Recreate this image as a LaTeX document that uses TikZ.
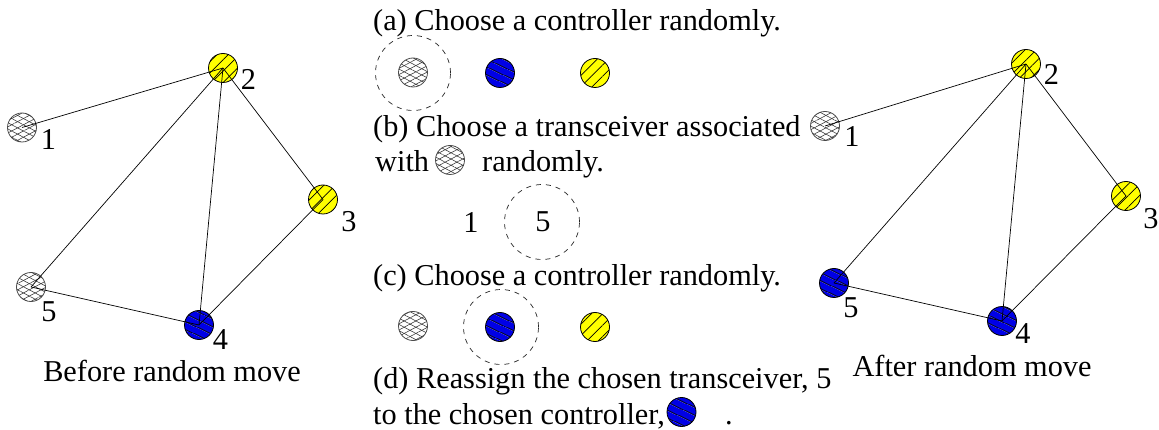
\documentclass[tikz,border=0pt]{standalone}
\usepackage{fontspec}
\setmainfont{Liberation Serif}
\usetikzlibrary{patterns.meta}
\definecolor{cblue}{RGB}{0,0,230}
\definecolor{cyel}{RGB}{255,255,0}
\begin{document}
\begin{tikzpicture}[x=1pt,y=-1pt,
  txt/.style={inner sep=0pt, anchor=base west, font=\fontsize{30.3}{36}\selectfont},
  lbl/.style={inner sep=0pt, font=\fontsize{30.3}{36}\selectfont},
  dot/.style={circle, inner sep=0pt, minimum size=29pt, draw, line width=0.8pt},
  grayd/.style={dot, draw=black!70,
    pattern={Lines[angle=28,distance=5.5pt,line width=0.55pt]}, pattern color=black!80,
    postaction={pattern={Lines[angle=-28,distance=5.5pt,line width=0.55pt]}, pattern color=black!80}},
  blued/.style={dot, preaction={fill=cblue},
    pattern={Lines[angle=-25,distance=6.5pt,line width=0.8pt]}, pattern color=black},
  yeld/.style={dot, preaction={fill=cyel},
    pattern={Lines[angle=45,distance=8pt,line width=0.7pt]}, pattern color=black},
  dcirc/.style={circle, draw=black!85, dash pattern=on 5pt off 5pt, minimum size=75pt, inner sep=0pt, line width=0.7pt},
  edge/.style={draw, line width=0.7pt}
]
\useasboundingbox (0,0) rectangle (1159,430);

% ---------- left graph ----------
\node[grayd] (L1) at (22,127.5) {};
\node[yeld]  (L2) at (223,68) {};
\node[yeld]  (L3) at (323,199.5) {};
\node[blued] (L4) at (199,325) {};
\node[grayd] (L5) at (31,287) {};
\draw[edge] (L1.center) -- (L2.center);
\draw[edge] (L2.center) -- (L5.center);
\draw[edge] (L2.center) -- (L4.center);
\draw[edge] (L2.center) -- (L3.center);
\draw[edge] (L3.center) -- (L4.center);
\draw[edge] (L5.center) -- (L4.center);
\node[lbl] (l1) at (48.5,140) {1};
\node[lbl] (l2) at (248.5,79.5) {2};
\node[lbl] (l3) at (349,222) {3};
\node[lbl] (l4) at (220.5,339.5) {4};
\node[lbl] (l5) at (49,312) {5};
\node[txt, anchor=base] (before) at (172,381) {Before random move};

% ---------- right graph ----------
\node[grayd] (R1) at (825,126) {};
\node[yeld]  (R2) at (1026,64) {};
\node[yeld]  (R3) at (1126,196) {};
\node[blued] (R4) at (1002,321) {};
\node[blued] (R5) at (834,283) {};
\draw[edge] (R1.center) -- (R2.center);
\draw[edge] (R2.center) -- (R5.center);
\draw[edge] (R2.center) -- (R4.center);
\draw[edge] (R2.center) -- (R3.center);
\draw[edge] (R3.center) -- (R4.center);
\draw[edge] (R5.center) -- (R4.center);
\node[lbl] (r1) at (852,137) {1};
\node[lbl] (r2) at (1051.5,74.5) {2};
\node[lbl] (r3) at (1151,219) {3};
\node[lbl] (r4) at (1023,334) {4};
\node[lbl] (r5) at (851,308) {5};
\node[txt, anchor=base] (after) at (972,376) {After random move};

% ---------- middle ----------
\node[txt] (ta) at (373,31) {(a) Choose a controller randomly.};
\node[dcirc] (da) at (413,73) {};
\node[grayd] (a1) at (413,72.5) {};
\node[blued] (a2) at (500,73) {};
\node[yeld]  (a3) at (595,73) {};

\node[txt] (tb) at (373,137) {(b) Choose a transceiver associated};
\node[txt] (tb2) at (375,172) {with};
\node[grayd] (bsym) at (450,160) {};
\node[txt] (tb3) at (482,172) {randomly.};

\node[lbl] (b1) at (471,222) {1};
\node[dcirc] (db) at (542,222) {};
\node[lbl] (b5) at (543,222) {5};

\node[txt] (tc) at (373,286) {(c) Choose a controller randomly.};
\node[grayd] (c1) at (413,326) {};
\node[dcirc] (dc) at (501,327) {};
\node[blued] (c2) at (500,327) {};
\node[yeld]  (c3) at (595,327) {};

\node[txt] (td) at (373,388) {(d) Reassign the chosen transceiver, 5};
\node[txt] (td2) at (373,424) {to the chosen controller,};
\node[blued] (dsym) at (681.5,412) {};
\node[txt] (td3) at (725,424) {.};
\end{tikzpicture}
\end{document}
